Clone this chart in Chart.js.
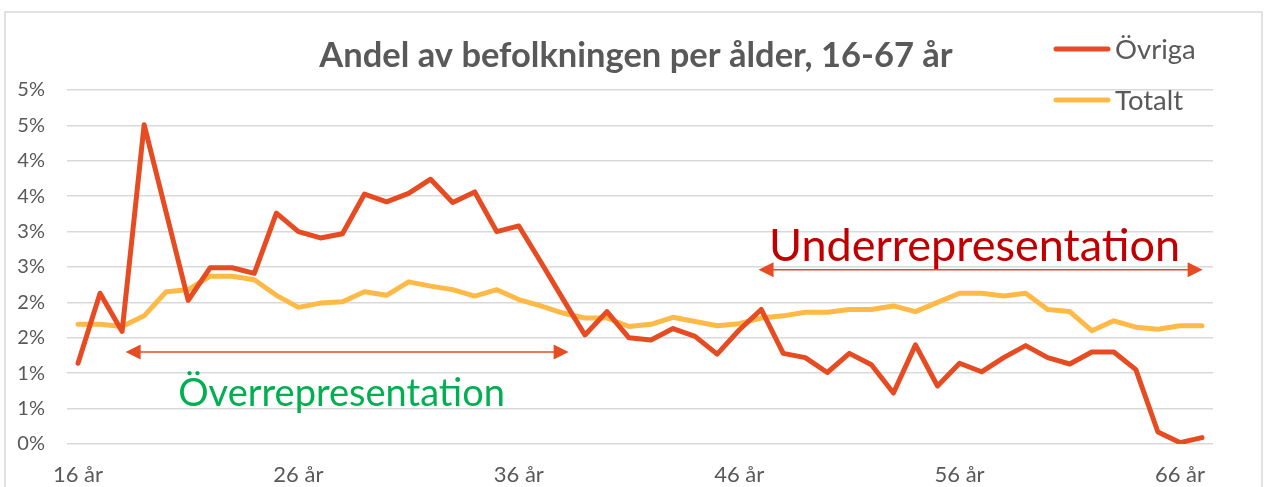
<!DOCTYPE html>
<html lang="sv">
<head>
<meta charset="UTF-8">
<title>Andel av befolkningen per ålder</title>
<script src="https://cdn.jsdelivr.net/npm/chart.js"></script>
<style>
  html, body { margin: 0; padding: 0; background: #fff; }
  canvas { display: block; }
</style>
</head>
<body>
<canvas id="chart" width="1267" height="487"></canvas>
<script>
// åldrar 16-67
const ages = [16,17,18,19,20,21,22,23,24,25,26,27,28,29,30,31,32,33,34,35,36,37,38,39,40,41,
              42,43,44,45,46,47,48,49,50,51,52,53,54,55,56,57,58,59,60,61,62,63,64,65,66,67];
const labels = ages.map(a => a + ' år');

// andel i procent
const ovriga = [1.14,2.13,1.59,4.51,3.27,2.03,2.49,2.49,2.41,3.26,3.00,2.91,2.97,3.53,3.42,3.54,
                3.74,3.41,3.56,3.00,3.08,2.57,2.05,1.54,1.87,1.50,1.47,1.63,1.52,1.27,1.61,1.90,
                1.28,1.22,1.01,1.28,1.12,0.72,1.40,0.82,1.14,1.02,1.22,1.39,1.22,1.13,1.30,1.30,
                1.05,0.17,0.02,0.09];
const totalt = [1.69,1.69,1.66,1.81,2.15,2.18,2.37,2.37,2.32,2.10,1.93,1.99,2.01,2.15,2.10,2.29,
                2.23,2.18,2.09,2.18,2.04,1.95,1.85,1.78,1.78,1.66,1.69,1.79,1.73,1.67,1.70,1.78,
                1.81,1.86,1.86,1.90,1.90,1.95,1.87,2.00,2.13,2.13,2.09,2.13,1.90,1.87,1.60,1.74,
                1.65,1.62,1.67,1.67];

const RED = '#E64B22';
const YELLOW = '#FFB946';
const GREY = '#595959';
const FONT = 'Lato, "Open Sans", sans-serif';

// pilar + texter, i dataenheter (index på x, procent på y)
const notes = [
  { text: 'Överrepresentation', color: '#00B050', size: 38, x: 11.96, y: 0.54, from: 2.16, to: 22.26, ay: 1.30 },
  { text: 'Underrepresentation', color: '#C00000', size: 45, x: 40.68, y: 2.58, from: 30.88, to: 51.03, ay: 2.46 }
];

function arrowHead(ctx, x, y, dir) {
  ctx.beginPath();
  ctx.moveTo(x, y);
  ctx.lineTo(x - dir * 15, y - 7.5);
  ctx.lineTo(x - dir * 15, y + 7.5);
  ctx.closePath();
  ctx.fill();
}

const extras = {
  id: 'extras',
  beforeDraw(chart) {
    const ctx = chart.ctx;
    ctx.save();
    ctx.strokeStyle = '#d9d9d9';
    ctx.lineWidth = 1.5;
    ctx.strokeRect(5, 12, 1257, 500);
    ctx.restore();
  },
  afterDraw(chart) {
    const ctx = chart.ctx;
    const xs = chart.scales.x, ys = chart.scales.y;
    ctx.save();

    // titel
    ctx.fillStyle = GREY;
    ctx.font = 'bold 34.5px ' + FONT;
    ctx.textAlign = 'center';
    ctx.textBaseline = 'alphabetic';
    ctx.fillText('Andel av befolkningen per ålder, 16-67 år', 636, 67);

    // legend
    const leg = [['Övriga', RED, 49], ['Totalt', YELLOW, 100]];
    ctx.textAlign = 'left';
    ctx.textBaseline = 'middle';
    ctx.font = '27.5px ' + FONT;
    leg.forEach(([name, col, y]) => {
      ctx.strokeStyle = col;
      ctx.lineWidth = 5;
      ctx.lineCap = 'round';
      ctx.beginPath();
      ctx.moveTo(1056, y);
      ctx.lineTo(1108, y);
      ctx.stroke();
      ctx.fillStyle = GREY;
      ctx.fillText(name, 1115, y + 1);
    });

    // annoteringar
    notes.forEach(n => {
      const x1 = xs.getPixelForValue(n.from), x2 = xs.getPixelForValue(n.to);
      const ay = ys.getPixelForValue(n.ay);
      ctx.strokeStyle = RED;
      ctx.fillStyle = RED;
      ctx.lineWidth = 1.5;
      ctx.lineCap = 'butt';
      ctx.beginPath();
      ctx.moveTo(x1 + 10, ay);
      ctx.lineTo(x2 - 10, ay);
      ctx.stroke();
      arrowHead(ctx, x1, ay, -1);
      arrowHead(ctx, x2, ay, 1);

      ctx.fillStyle = n.color;
      ctx.font = n.size + 'px ' + FONT;
      ctx.textAlign = 'center';
      ctx.textBaseline = 'alphabetic';
      ctx.fillText(n.text, xs.getPixelForValue(n.x), ys.getPixelForValue(n.y));
    });
    ctx.restore();
  }
};

new Chart(document.getElementById('chart'), {
  type: 'line',
  data: {
    labels: labels,
    datasets: [
      { label: 'Övriga', data: ovriga, borderColor: RED, backgroundColor: RED, borderWidth: 5,
        pointRadius: 0, tension: 0, borderJoinStyle: 'round', borderCapStyle: 'round' },
      { label: 'Totalt', data: totalt, borderColor: YELLOW, backgroundColor: YELLOW, borderWidth: 5,
        pointRadius: 0, tension: 0, borderJoinStyle: 'round', borderCapStyle: 'round' }
    ]
  },
  options: {
    responsive: false,
    animation: false,
    layout: { padding: { top: 90, right: 54, bottom: 0, left: 2 } },
    plugins: { legend: { display: false }, title: { display: false }, tooltip: { enabled: false } },
    scales: {
      x: {
        offset: true,
        grid: { display: false },
        border: { display: false },
        ticks: {
          autoSkip: false, maxRotation: 0, padding: 10,
          color: GREY, font: { family: FONT, size: 22 },
          callback: (v, i) => i % 10 === 0 ? labels[i] : ''
        },
        afterFit: s => { s.height = 43; }
      },
      y: {
        min: 0, max: 5,
        grid: { color: '#d9d9d9', lineWidth: 1.5, drawTicks: false },
        border: { display: false },
        ticks: {
          stepSize: 0.5, padding: 22,
          color: GREY, font: { family: FONT, size: 20 },
          callback: v => Math.round(v) + '%'
        },
        afterFit: s => { s.width = 65; }
      }
    }
  },
  plugins: [extras]
});
</script>
</body>
</html>
